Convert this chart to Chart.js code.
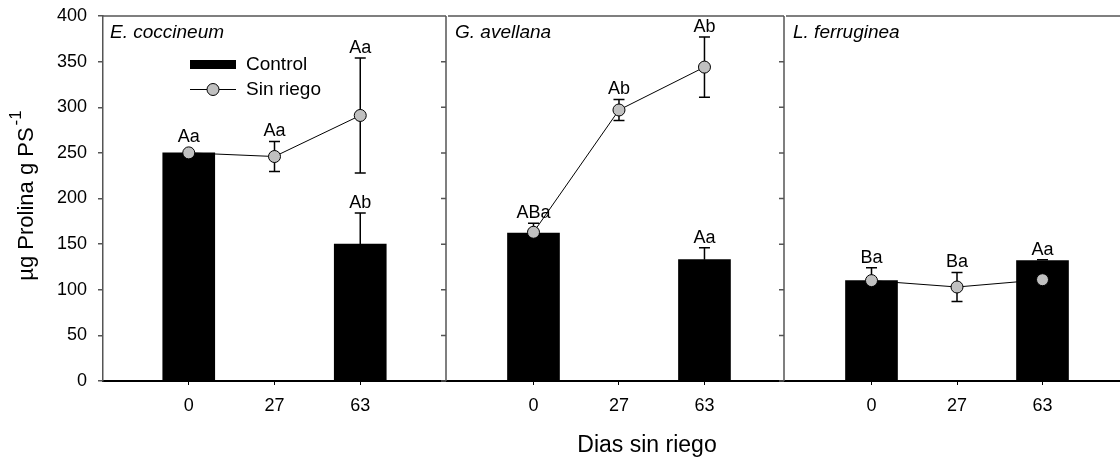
<!DOCTYPE html>
<html><head><meta charset="utf-8">
<script src="https://cdn.jsdelivr.net/npm/chart.js@4.4.1/dist/chart.umd.min.js"></script>
<style>
html,body{margin:0;padding:0;width:1120px;height:460px;overflow:hidden;background:#fff;}
canvas{position:absolute;top:0;}
</style></head><body>
<canvas id="c0"></canvas><canvas id="c1"></canvas><canvas id="c2"></canvas>
<script>
// ---- data ----
const days = ['0', '27', '63'];
const species = ['E. coccineum', 'G. avellana', 'L. ferruginea'];
const seriesNames = ['Control', 'Sin riego'];
const yTicks = [0, 50, 100, 150, 200, 250, 300, 350, 400];
const xTitle = 'Dias sin riego';
const yTitle = 'µg Prolina g PS';
const yTitleSup = '-1';

// Control (bars) and their standard errors
const controlEc = [250, null, 150];
const controlGa = [162, null, 133];
const controlLf = [110, null, 132];
const controlErrEc = [0, null, 34];
const controlErrGa = [0, null, 13];
const controlErrLf = [0, null, 1];

// Sin riego (line) and their standard errors
const sinEc = [250, 246, 291];
const sinGa = [163, 297, 344];
const sinLf = [110, 103, 111];
const sinErrEc = [0, 16.5, 63];
const sinErrGa = [10, 11.5, 33];
const sinErrLf = [14, 16, 0];

// significance letters
const lettersCtrlEc = ['', '', 'Ab'];
const lettersCtrlGa = ['', '', 'Aa'];
const lettersCtrlLf = ['', '', 'Aa'];
const lettersSinEc = ['Aa', 'Aa', 'Aa'];
const lettersSinGa = ['ABa', 'Ab', 'Ab'];
const lettersSinLf = ['Ba', 'Ba', ''];

// ---- layout ----
const FONT = '"Liberation Sans", Arial, Helvetica, sans-serif';
const H = 460;
const TOP = 16, XAXIS_H = 79, SLOT = 86, PAD = 6, YAXIS_W = 103;
const panelLayout = [
  {areaLeft: 103, areaRight: 447},
  {areaLeft: 447, areaRight: 785},
  {areaLeft: 785, areaRight: 1129}
];
const GRAY = '#c0c0c0';
const FRAME = '#555';

const panels = [
  {ctrl: controlEc, ctrlErr: controlErrEc, sin: sinEc, sinErr: sinErrEc, lc: lettersCtrlEc, ls: lettersSinEc},
  {ctrl: controlGa, ctrlErr: controlErrGa, sin: sinGa, sinErr: sinErrGa, lc: lettersCtrlGa, ls: lettersSinGa},
  {ctrl: controlLf, ctrlErr: controlErrLf, sin: sinLf, sinErr: sinErrLf, lc: lettersCtrlLf, ls: lettersSinLf}
];

function makePlugin(p, idx) {
  return {
    id: 'custom' + idx,
    afterDatasetDraw(chart, args) {
      if (args.index !== 0) return;
      const ctx = chart.ctx, xs = chart.scales.x, ys = chart.scales.y;
      ctx.save();
      ctx.strokeStyle = '#000';
      ctx.lineWidth = 1.5;
      const cap = 5.5;
      days.forEach((d, i) => {
        const x = xs.getPixelForValue(i + 1);
        if (p.ctrl[i] !== null && p.ctrlErr[i]) {
          const y0 = ys.getPixelForValue(p.ctrl[i]);
          const y1 = ys.getPixelForValue(p.ctrl[i] + p.ctrlErr[i]);
          ctx.beginPath();
          ctx.moveTo(x, y0); ctx.lineTo(x, y1);
          ctx.moveTo(x - cap, y1); ctx.lineTo(x + cap, y1);
          ctx.stroke();
        }
        if (p.sin[i] !== null && p.sinErr[i]) {
          const yt = ys.getPixelForValue(p.sin[i] + p.sinErr[i]);
          const yb = ys.getPixelForValue(p.sin[i] - p.sinErr[i]);
          ctx.beginPath();
          ctx.moveTo(x, yb); ctx.lineTo(x, yt);
          ctx.moveTo(x - cap, yt); ctx.lineTo(x + cap, yt);
          ctx.moveTo(x - cap, yb); ctx.lineTo(x + cap, yb);
          ctx.stroke();
        }
      });
      ctx.restore();
    },
    afterDraw(chart) {
      const ctx = chart.ctx, xs = chart.scales.x, ys = chart.scales.y, a = chart.chartArea;
      ctx.save();
      // frame: top and right with inward ticks
      ctx.strokeStyle = FRAME;
      ctx.lineWidth = 1.5;
      ctx.beginPath();
      ctx.moveTo(a.left, a.top); ctx.lineTo(a.right, a.top);
      ctx.moveTo(a.right, a.top); ctx.lineTo(a.right, a.bottom);
      yTicks.forEach(v => {
        const y = ys.getPixelForValue(v);
        ctx.moveTo(a.right - 5, y); ctx.lineTo(a.right, y);
      });
      ctx.stroke();
      // panel title
      ctx.fillStyle = '#000';
      ctx.font = 'italic 19px ' + FONT;
      ctx.textAlign = 'left';
      ctx.textBaseline = 'middle';
      ctx.fillText(species[idx], a.left + 7, a.top + 17);
      // letters
      ctx.font = '18px ' + FONT;
      ctx.textAlign = 'center';
      ctx.textBaseline = 'alphabetic';
      days.forEach((d, i) => {
        const x = xs.getPixelForValue(i + 1);
        if (p.ls[i]) {
          let top = p.sinErr[i] ? ys.getPixelForValue(p.sin[i] + p.sinErr[i]) : ys.getPixelForValue(p.sin[i]) - 6;
          ctx.fillText(p.ls[i], x, top - 5);
        }
        if (p.lc[i]) {
          const top = ys.getPixelForValue(p.ctrl[i] + (p.ctrlErr[i] || 0));
          ctx.fillText(p.lc[i], x, top - 5);
        }
      });
      if (idx === 0) {
        // legend
        const lx = a.left + 87;
        ctx.fillStyle = '#000';
        ctx.fillRect(lx, 60, 46, 9);
        ctx.beginPath();
        ctx.strokeStyle = '#000';
        ctx.lineWidth = 1;
        ctx.moveTo(lx, 89.5); ctx.lineTo(lx + 46, 89.5);
        ctx.stroke();
        ctx.beginPath();
        ctx.arc(lx + 23, 89.5, 6, 0, Math.PI * 2);
        ctx.fillStyle = GRAY; ctx.fill();
        ctx.stroke();
        ctx.fillStyle = '#000';
        ctx.font = '19px ' + FONT;
        ctx.textAlign = 'left';
        ctx.textBaseline = 'middle';
        ctx.fillText(chart.data.datasets[0].label, lx + 56, 65);
        ctx.fillText(chart.data.datasets[1].label, lx + 56, 90);
        // y title with superscript
        ctx.font = '22px ' + FONT;
        const wm = ctx.measureText(yTitle).width;
        ctx.font = '17px ' + FONT;
        const ws = ctx.measureText(yTitleSup).width;
        const total = wm + 2 + ws;
        const cy = (a.top + a.bottom) / 2 - 3;
        ctx.translate(33, cy + total / 2);
        ctx.rotate(-Math.PI / 2);
        ctx.textBaseline = 'alphabetic';
        ctx.textAlign = 'left';
        ctx.font = '22px ' + FONT;
        ctx.fillText(yTitle, 0, 0);
        ctx.font = '17px ' + FONT;
        ctx.fillText(yTitleSup, wm + 2, -12);
      }
      if (idx === 1) {
        ctx.font = '23px ' + FONT;
        ctx.textAlign = 'center';
        ctx.textBaseline = 'middle';
        ctx.fillText(xTitle, a.left + 199, 446);
      }
      ctx.restore();
    }
  };
}

panels.forEach((p, idx) => {
  const L = panelLayout[idx];
  const canvas = document.getElementById('c' + idx);
  const areaW = L.areaRight - L.areaLeft;
  const left = idx === 0 ? 0 : L.areaLeft - PAD;
  const width = idx === 0 ? L.areaRight + PAD : areaW + 2 * PAD;
  canvas.width = width; canvas.height = H;
  canvas.style.left = left + 'px';
  canvas.style.width = width + 'px'; canvas.style.height = H + 'px';
  const xMax = areaW / SLOT;

  const barData = days.map((d, i) => ({x: i + 1, y: p.ctrl[i]})).filter(q => q.y !== null);
  const lineData = days.map((d, i) => ({x: i + 1, y: p.sin[i]}));

  new Chart(canvas, {
    type: 'bar',
    data: {
      datasets: [
        {type: 'bar', label: seriesNames[0], data: barData, backgroundColor: '#000',
         borderWidth: 0, barThickness: 52, order: 2},
        {type: 'line', label: seriesNames[1], data: lineData, borderColor: '#000', borderWidth: 1,
         pointRadius: 6, pointBackgroundColor: GRAY, pointBorderColor: '#000', pointBorderWidth: 1,
         fill: false, tension: 0, order: 1}
      ]
    },
    options: {
      responsive: false,
      animation: false,
      devicePixelRatio: 1,
      layout: {padding: {left: idx === 0 ? 0 : PAD, right: PAD, top: TOP, bottom: 0}},
      plugins: {legend: {display: false}, tooltip: {enabled: false}},
      scales: {
        x: {
          type: 'linear', min: 0, max: xMax, offset: false,
          afterBuildTicks: s => { s.ticks = days.map((d, i) => ({value: i + 1})); },
          afterFit: s => { s.height = XAXIS_H; s.paddingLeft = 0; s.paddingRight = 0; },
          ticks: {callback: (v, i) => days[i], autoSkip: false, maxRotation: 0,
                  font: {family: FONT, size: 18}, color: '#000', padding: 10},
          grid: {display: true, offset: false, drawOnChartArea: false, drawTicks: true, tickLength: 4, color: '#000', lineWidth: 1},
          border: {display: true, color: '#000', width: 2}
        },
        y: {
          display: idx === 0,
          min: 0, max: 400,
          afterBuildTicks: s => { s.ticks = yTicks.map(v => ({value: v})); },
          afterFit: s => { s.width = idx === 0 ? YAXIS_W : 0; s.paddingTop = 0; s.paddingBottom = 0; },
          ticks: {font: {family: FONT, size: 18}, color: '#000', padding: 11},
          grid: {display: true, drawOnChartArea: false, drawTicks: true, tickLength: 5, color: FRAME, lineWidth: 1.5},
          border: {display: true, color: FRAME, width: 1.5}
        }
      }
    },
    plugins: [makePlugin(p, idx)]
  });
});
</script>
</body></html>
